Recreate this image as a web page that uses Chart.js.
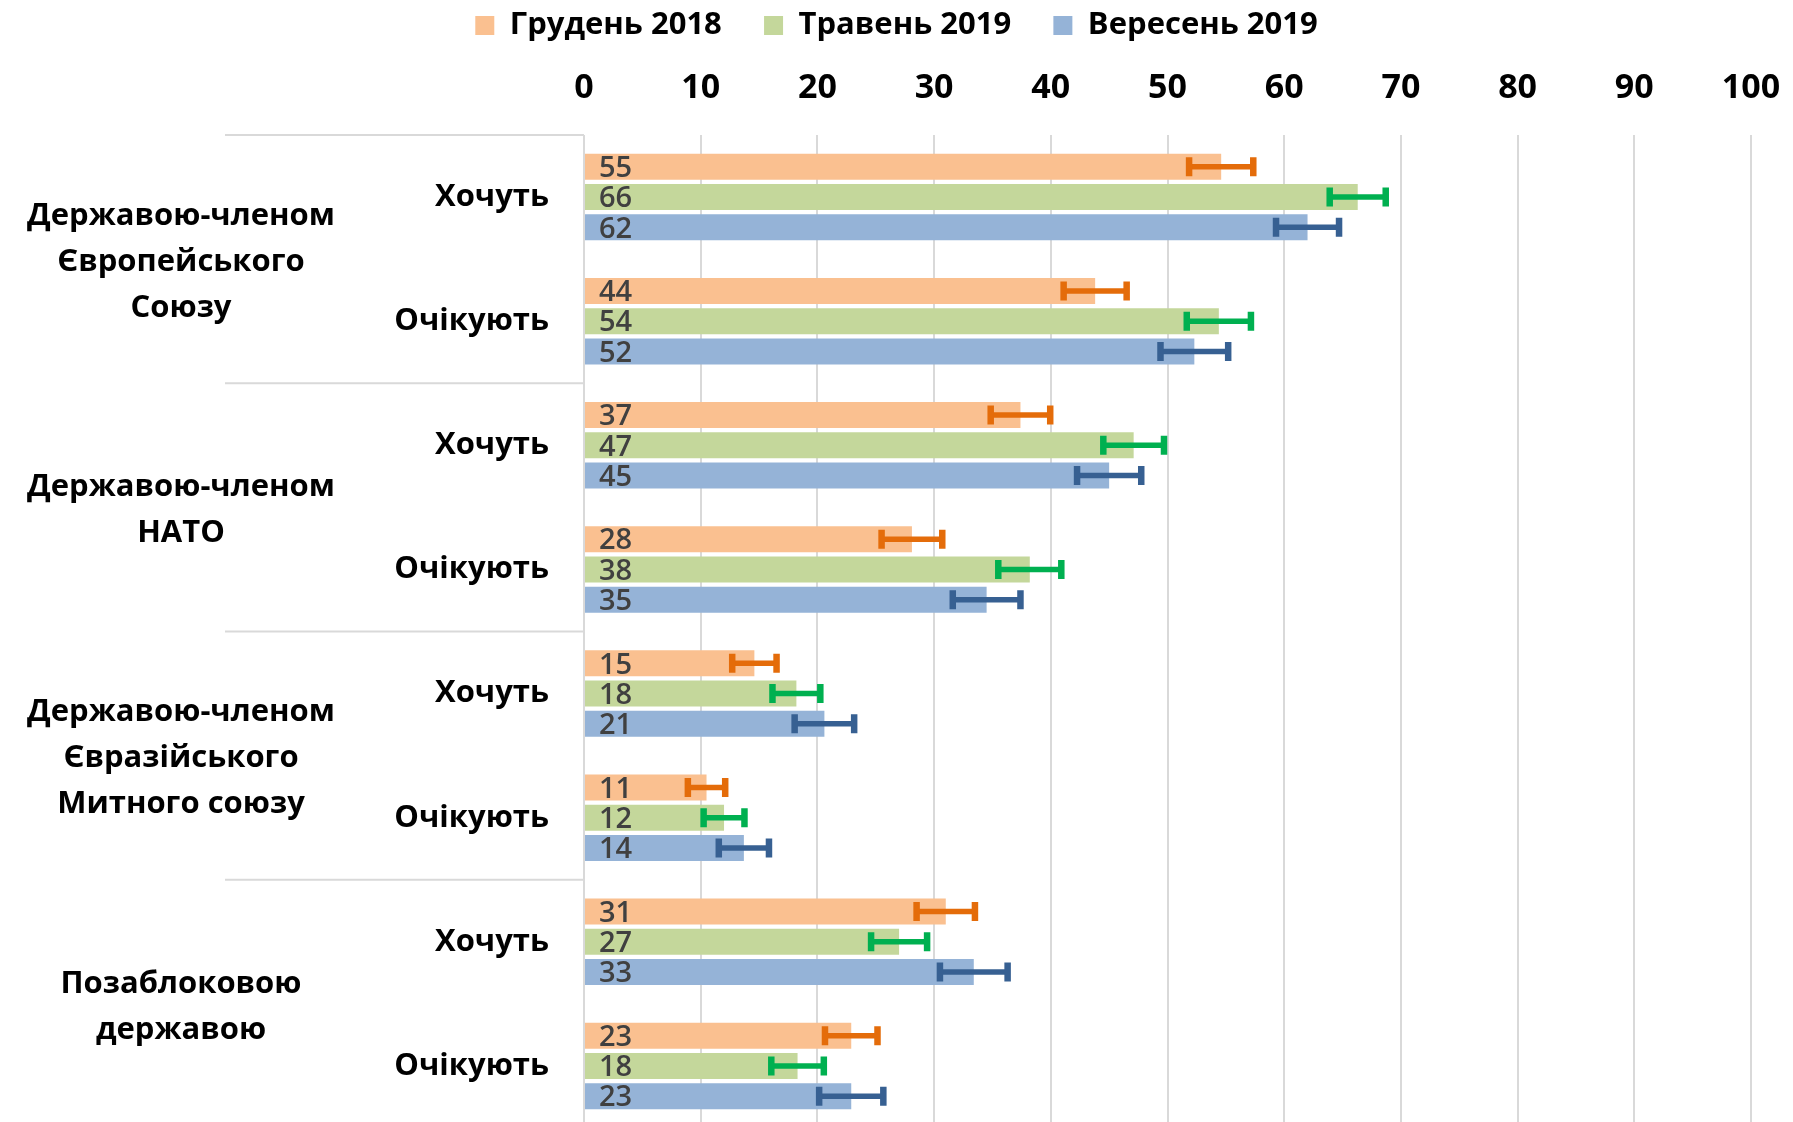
<!DOCTYPE html>
<html>
<head>
<meta charset="utf-8">
<script src="https://cdn.jsdelivr.net/npm/chart.js@4.4.1/dist/chart.umd.min.js"></script>
<style>
  html, body { margin: 0; padding: 0; background: #fff; overflow: hidden; }
</style>
</head>
<body>
<canvas id="survey-chart" width="1793" height="1128"></canvas>
<script>
"use strict";

var categories = ["Хочуть", "Очікують", "Хочуть", "Очікують", "Хочуть", "Очікують", "Хочуть", "Очікують"];
var groupLabels = [
  ["Державою-членом", "Європейського", "Союзу"],
  ["Державою-членом", "НАТО"],
  ["Державою-членом", "Євразійського", "Митного союзу"],
  ["Позаблоковою", "державою"]
];
var seriesNames = ["Грудень 2018", "Травень 2019", "Вересень 2019"];
var dec2018 = [54.6, 43.8, 37.4, 28.1, 14.6, 10.5, 31.0, 22.9];
var may2019 = [66.3, 54.4, 47.1, 38.2, 18.2, 12.0, 27.0, 18.3];
var sep2019 = [62.0, 52.3, 45.0, 34.5, 20.6, 13.7, 33.4, 22.9];
var dec2018Err = [2.75, 2.7, 2.55, 2.6, 1.9, 1.6, 2.5, 2.25];
var may2019Err = [2.4, 2.75, 2.6, 2.7, 2.05, 1.75, 2.4, 2.25];
var sep2019Err = [2.7, 2.9, 2.75, 2.9, 2.55, 2.15, 2.9, 2.75];
var xTicks = [0, 10, 20, 30, 40, 50, 60, 70, 80, 90, 100];

var FONT = "'Open Sans', 'Noto Sans', sans-serif";

// error bars + value labels inside the bars
var barExtrasPlugin = {
  id: "barExtras",
  afterDatasetsDraw: function(chart) {
    var ctx = chart.ctx;
    var xScale = chart.scales.x;
    chart.data.datasets.forEach(function(ds, di) {
      var meta = chart.getDatasetMeta(di);
      meta.data.forEach(function(bar, i) {
        var lo = xScale.getPixelForValue(ds.data[i] - ds.errors[i]);
        var hi = xScale.getPixelForValue(ds.data[i] + ds.errors[i]);
        ctx.save();
        ctx.strokeStyle = ds.errorColor;
        ctx.lineWidth = 5.5;
        ctx.beginPath();
        ctx.moveTo(lo, bar.y);
        ctx.lineTo(hi, bar.y);
        ctx.stroke();
        ctx.lineWidth = 6.5;
        ctx.beginPath();
        ctx.moveTo(lo, bar.y - 9.5);
        ctx.lineTo(lo, bar.y + 9.5);
        ctx.moveTo(hi, bar.y - 9.5);
        ctx.lineTo(hi, bar.y + 9.5);
        ctx.stroke();

        ctx.fillStyle = "#404040";
        ctx.font = "600 29px " + FONT;
        ctx.textAlign = "left";
        ctx.textBaseline = "middle";
        ctx.fillText(String(Math.round(ds.data[i])), bar.base + 14, bar.y + 2);
        ctx.restore();
      });
    });
  }
};

// group labels and separators on the left
var groupPlugin = {
  id: "groups",
  afterDraw: function(chart) {
    var ctx = chart.ctx;
    var y = chart.scales.y;
    var step = y.getPixelForValue(1) - y.getPixelForValue(0);
    ctx.save();
    ctx.strokeStyle = "#D9D9D9";
    ctx.lineWidth = 2;
    for (var g = 0; g < groupLabels.length; g++) {
      var top = y.getPixelForValue(g * 2) - step / 2;
      ctx.beginPath();
      ctx.moveTo(225, top);
      ctx.lineTo(chart.chartArea.left, top);
      ctx.stroke();

      var mid = (y.getPixelForValue(g * 2) + y.getPixelForValue(g * 2 + 1)) / 2 + 3;
      var lines = groupLabels[g];
      ctx.fillStyle = "#000";
      ctx.font = "bold 31px " + FONT;
      ctx.textAlign = "center";
      ctx.textBaseline = "middle";
      for (var l = 0; l < lines.length; l++) {
        ctx.fillText(lines[l], 181, mid + (l - (lines.length - 1) / 2) * 46);
      }
    }
    ctx.restore();
  }
};

new Chart(document.getElementById("survey-chart").getContext("2d"), {
  type: "bar",
  data: {
    labels: categories,
    datasets: [
      { label: seriesNames[0], data: dec2018, errors: dec2018Err, backgroundColor: "#FAC090", errorColor: "#E46C0A" },
      { label: seriesNames[1], data: may2019, errors: may2019Err, backgroundColor: "#C4D79B", errorColor: "#00B050" },
      { label: seriesNames[2], data: sep2019, errors: sep2019Err, backgroundColor: "#95B3D7", errorColor: "#376092" }
    ]
  },
  options: {
    indexAxis: "y",
    responsive: false,
    animation: false,
    categoryPercentage: 0.73,
    barPercentage: 0.86,
    layout: { padding: 0 },
    plugins: {
      tooltip: { enabled: false },
      legend: {
        position: "top",
        labels: {
          boxWidth: 19,
          boxHeight: 19,
          padding: 10,
          color: "#000",
          font: { family: FONT, size: 31, weight: "bold" },
          generateLabels: function(chart) {
            var items = Chart.defaults.plugins.legend.labels.generateLabels(chart);
            items.forEach(function(item, i) {
              if (i < items.length - 1) item.text = item.text + "    ";
            });
            return items;
          }
        }
      }
    },
    scales: {
      x: {
        position: "top",
        min: 0,
        max: 100,
        afterBuildTicks: function(scale) {
          scale.ticks = xTicks.map(function(v) { return { value: v }; });
        },
        afterFit: function(scale) {
          scale.height = 135 - scale.chart.legend.height;
          scale.paddingLeft = 0;
          scale.paddingRight = 0;
        },
        grid: { color: "#D9D9D9", lineWidth: 2, drawTicks: false },
        border: { display: false },
        ticks: {
          padding: 26,
          color: "#000",
          font: { family: FONT, size: 34, weight: "bold" }
        }
      },
      y: {
        afterFit: function(scale) {
          scale.width = 584;
          scale.paddingTop = 0;
          scale.paddingBottom = 0;
        },
        grid: { display: false, drawTicks: false },
        border: { display: false },
        ticks: {
          padding: 35,
          color: "#000",
          font: { family: FONT, size: 31, weight: "bold" }
        }
      },
      // empty right-hand strip so the plot ends at 100 while the legend centres on the page
      yRight: {
        type: "category",
        position: "right",
        afterFit: function(scale) {
          scale.width = 42;
          scale.paddingTop = 0;
          scale.paddingBottom = 0;
        },
        grid: { display: false, drawTicks: false },
        border: { display: false },
        ticks: { display: false }
      }
    }
  },
  plugins: [barExtrasPlugin, groupPlugin]
});
</script>
</body>
</html>
